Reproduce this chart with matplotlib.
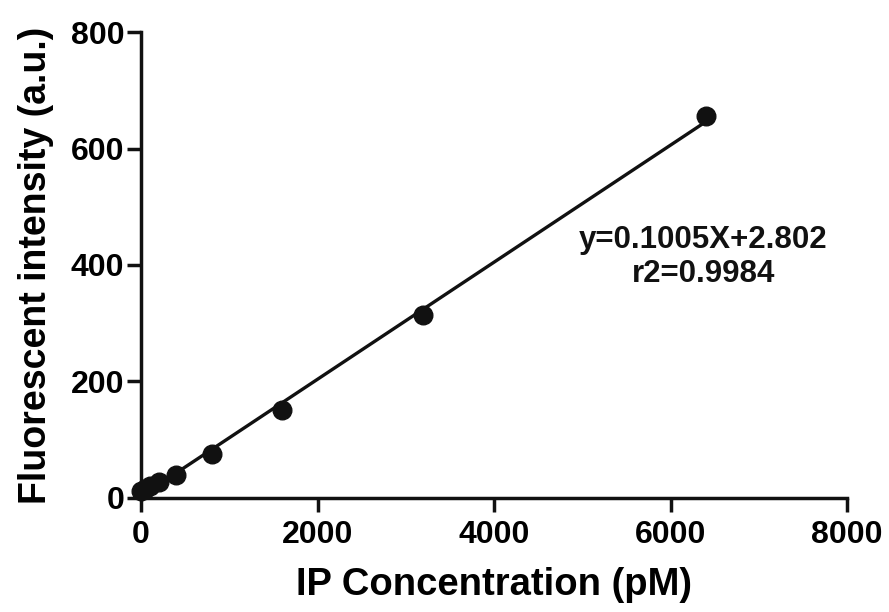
import numpy as np
import matplotlib.pyplot as plt

plt.rcParams['font.family'] = ['Liberation Sans', 'DejaVu Sans']
plt.rcParams['font.weight'] = 'bold'

# IP concentration (pM) and fluorescent intensity (a.u.)
conc = [0, 50, 100, 200, 400, 800, 1600, 3200, 6400]
intensity = [12, 16, 21, 27, 39, 75, 151, 315, 656]
slope = 0.1005
intercept = 2.802
fit_text = 'y=0.1005X+2.802\nr2=0.9984'

fig = plt.figure(figsize=(8.89, 6.12), dpi=100)
ax = fig.add_axes([0.1586, 0.1863, 0.7942, 0.7614])

t = np.linspace(min(conc), max(conc), 100)
ax.plot(t, slope * t + intercept, color='#111111', linewidth=2.4, zorder=2)
ax.scatter(conc, intensity, s=180, color='#111111', zorder=3, clip_on=False)

ax.set_xlim(0, 8000)
ax.set_ylim(0, 800)
ax.set_xticks([0, 2000, 4000, 6000, 8000])
ax.set_yticks([0, 200, 400, 600, 800])

for s in ['top', 'right']:
    ax.spines[s].set_visible(False)
for s in ['left', 'bottom']:
    ax.spines[s].set_linewidth(2.5)
    ax.spines[s].set_color('#111111')
ax.tick_params(direction='out', length=10, width=2.5, color='#111111',
               labelsize=23)
ax.tick_params(axis='x', pad=6)
ax.tick_params(axis='y', pad=2)
for lab in ax.get_xticklabels() + ax.get_yticklabels():
    lab.set_fontweight('bold')

ax.set_xlabel('IP Concentration (pM)', fontsize=27.5, fontweight='bold', labelpad=12)
ax.set_ylabel('Fluorescent intensity (a.u.)', fontsize=27, fontweight='bold', labelpad=12)

ax.text(6370, 414, fit_text, ha='center', va='center', fontsize=22.5,
        fontweight='bold', color='#111111', linespacing=1.2)

fig.savefig('out.png', dpi=100)
